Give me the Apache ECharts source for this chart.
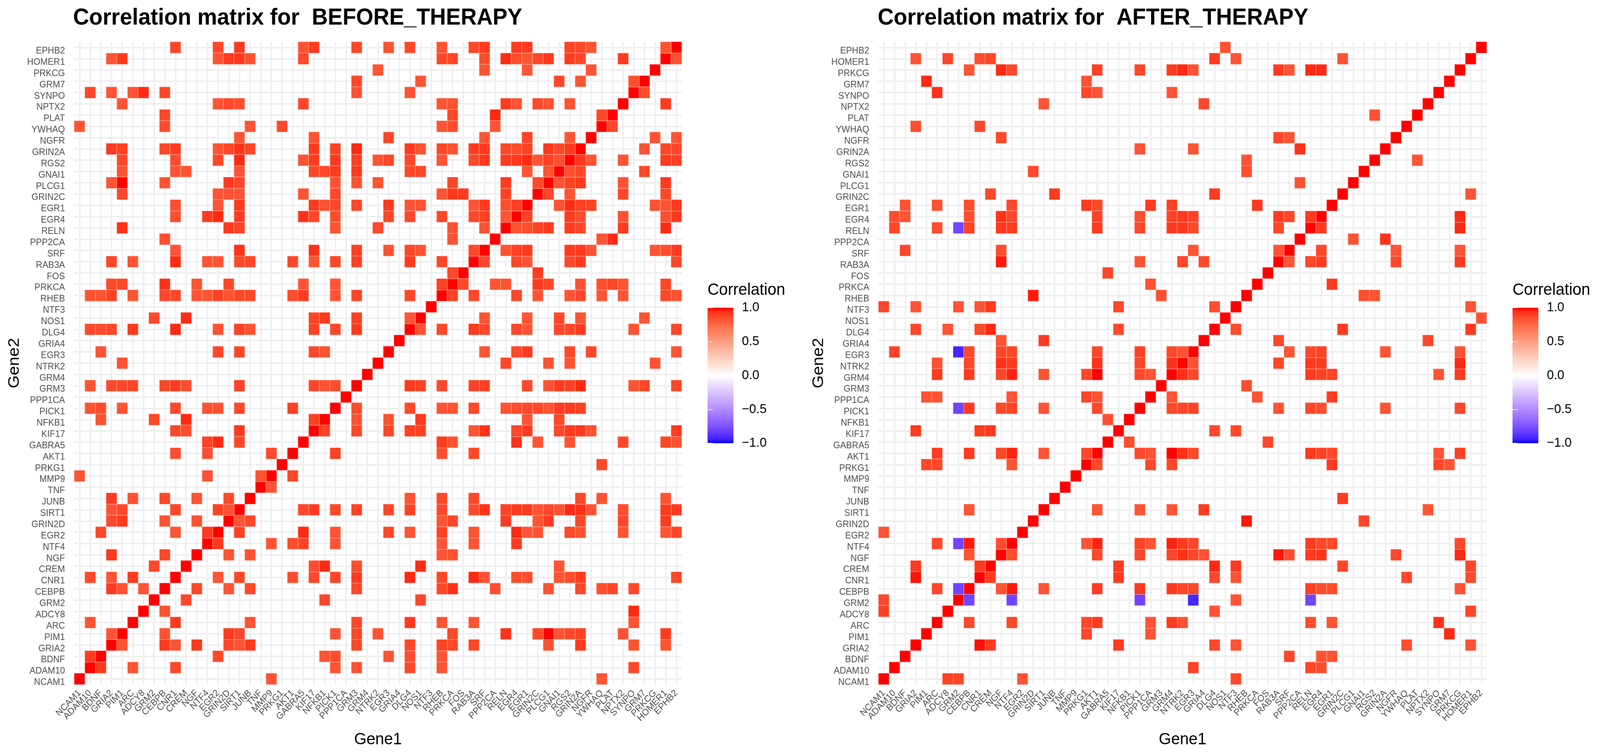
<!DOCTYPE html>
<html><head><meta charset="utf-8">
<style>html,body{margin:0;padding:0;background:#fff;overflow:hidden}#c{width:4335px;height:1936px;transform-origin:0 0}</style>
<script src="https://cdn.jsdelivr.net/npm/echarts@6/dist/echarts.min.js"></script>
</head><body><div id="c"></div>
<script>
const genes = ['NCAM1','ADAM10','BDNF','GRIA2','PIM1','ARC','ADCY8','GRM2','CEBPB','CNR1','CREM','NGF','NTF4','EGR2','GRIN2D','SIRT1','JUNB','TNF','MMP9','PRKG1','AKT1','GABRA5','KIF17','NFKB1','PICK1','PPP1CA','GRM3','GRM4','NTRK2','EGR3','GRIA4','DLG4','NOS1','NTF3','RHEB','PRKCA','FOS','RAB3A','SRF','PPP2CA','RELN','EGR4','EGR1','GRIN2C','PLCG1','GNAI1','RGS2','GRIN2A','NGFR','YWHAQ','PLAT','NPTX2','SYNPO','GRM7','PRKCG','HOMER1','EPHB2'];
const legendTicks = [-1, 1, 0.5];
// each entry: row gene index, then pairs (column gene index, correlation); the matrix is symmetric
const beforeRows = [
[56, 9,.87,13,.87,15,.91,21,.83,22,.91,26,.87,29,.83,31,.87,34,.83,37,.87,38,.91,41,.91,42,.91,46,.89,47,.87,48,.83,55,.83],
[55, 3,.83,4,.91,13,.83,14,.91,15,.91,16,.83,21,.87,34,.87,35,.87,38,.85,40,.95,41,.85,42,.83,43,.87,44,.91,46,.91,47,.87,51,.91],
[54, 28,.83,38,.83,42,.83,48,.83],
[53, 26,.87,32,.83,45,.87,47,.83,52,.85],
[52, 1,.87,3,.83,5,.83,6,.95,8,.87,26,.83,31,.83],
[51, 4,.83,13,.83,14,.87,15,.85,21,.87,34,.83,35,.83,40,.91,41,.83,43,.87,44,.83,46,.83],
[50, 8,.87,35,.87,39,.95,49,.87],
[49, 0,.83,8,.85,16,.83,19,.87,34,.83,35,.85,39,.83],
[48, 15,.83,22,.83,29,.87,38,.83,42,.89,46,.83],
[47, 3,.91,4,.89,8,.87,9,.91,13,.83,14,.87,15,.93,16,.87,22,.91,24,.89,26,.95,31,.91,32,.83,34,.87,35,.83,37,.91,38,.91,40,.87,41,.85,42,.89,44,.91,45,.87,46,.91],
[46, 4,.87,9,.85,13,.87,15,.95,21,.83,22,.91,24,.91,26,.89,28,.83,29,.87,31,.87,34,.83,37,.87,38,.91,40,.91,41,.91,42,.95,43,.83,44,.89,45,.85],
[45, 4,.83,9,.83,10,.83,15,.83,22,.87,23,.87,24,.91,26,.91,31,.87,32,.87,42,.83,44,.83],
[44, 3,.83,4,1,8,.83,14,.91,15,.87,24,.83,26,.83,28,.83,35,.87,40,.91,43,.87],
[43, 4,.87,13,.83,14,.83,15,.83,21,.83,24,.87,34,.83,35,.91,36,.91,40,.89],
[42, 9,.85,13,.83,15,.91,22,.91,23,.83,24,.87,26,.87,29,.91,31,.83,32,.83,37,.83,38,.91,40,.85,41,.89],
[41, 9,.85,12,.91,13,.95,15,.91,21,.93,22,.87,24,.85,29,.87,31,.87,34,.87,37,.87,38,.89,40,.83],
[40, 4,.93,14,.91,15,.89,24,.83,28,.87,35,.83,38,.83],
[39, 8,.85,35,.83],
[38, 9,.83,15,.93,22,.93,26,.89,29,.83,31,.87,32,.83,37,.87],
[37, 3,.87,5,.83,9,.95,12,.83,13,.83,15,.87,16,.87,20,.87,22,.83,24,.87,26,.89,31,.91,34,.87],
[36, 35,.87],
[35, 3,.87,4,.87,8,.93,11,.83,14,.87,21,.83,24,.83,34,.89],
[34, 1,.83,2,.83,3,.89,5,.83,8,.87,9,.87,11,.83,12,.83,13,.89,14,.83,15,.87,16,.87,20,.85,21,.91,24,.83,26,.87,31,.87],
[32, 7,.87,10,.95,22,.89,23,.91,26,.89,31,.83],
[31, 1,.87,2,.85,3,.87,5,.91,9,.95,13,.83,15,.89,16,.83,22,.89,24,.87,26,.91],
[29, 2,.83,13,.87,15,.87,22,.87,23,.83],
[28, 4,.83],
[26, 1,.83,3,.87,4,.87,5,.87,8,.87,9,.91,10,.85,15,.89,22,.87,23,.83,24,.85],
[24, 1,.83,2,.85,4,.83,9,.87,12,.83,13,.83,15,.87,20,.89],
[23, 2,.83,7,.87,10,.95,22,.89],
[22, 9,.87,10,.85,15,.91],
[21, 12,.89,13,.95,15,.87],
[20, 9,.85,12,.85,18,.87],
[18, 0,.83,12,.83,17,.83],
[16, 3,.91,5,.83,8,.87,11,.83,14,.87],
[15, 3,.83,4,.87,9,.87,13,.89,14,.83],
[14, 3,.87,4,.91,8,.83,11,.83],
[13, 2,.87,9,.83,12,.91],
[11, 3,.91,8,.87],
[10, 7,.87],
[9, 1,.87,3,.83,5,.91],
[8, 3,.91,4,.83,6,.83],
[5, 1,.83],
[4, 3,.83],
[2, 1,.91]
];
const afterRows = [
[56, 32,.83],
[55, 3,.83,6,.87,9,.85,10,.87,31,.91,33,.83,43,.83],
[54, 8,.83,11,.95,12,.87,20,.89,24,.87,27,.91,28,.95,29,.83,37,.91,38,.83,40,.95,41,.95],
[53, 4,.95,19,.83],
[52, 5,.93,19,.87,20,.83,27,.83],
[51, 15,.83,30,.87],
[50, 46,.83],
[49, 3,.85,9,.87],
[48, 11,.87,37,.87,38,.83],
[47, 24,.83,29,.83,39,.93],
[46, 34,.83],
[45, 14,.87,34,.85],
[44, 39,.83],
[43, 10,.87,16,.91,31,.91],
[42, 2,.83,5,.83,8,.85,12,.87,19,.91,20,.87,25,.91,27,.89,35,.91],
[41, 1,.85,2,.83,8,.85,11,.93,12,.87,20,.89,24,.85,27,.89,28,.91,29,.89,37,.91,38,.87,40,.91],
[40, 1,.87,5,.85,7,-.8,8,.89,11,.91,12,.91,20,.91,24,.87,27,.91,28,.91,29,.87,37,.87],
[38, 2,.87,11,.85,29,.83,37,.83],
[37, 11,.97,24,.83,28,.87,30,.87],
[36, 21,.87],
[35, 25,.83],
[34, 14,.97,26,.85],
[33, 0,.87,3,.83,7,.83,9,.83,10,.91,22,.87,31,.85],
[31, 3,.87,6,.83,9,.87,10,.95,22,.87],
[30, 11,.83,15,.91],
[29, 1,.89,7,-.92,8,.87,11,.87,12,.87,20,.87,24,.89,27,.87,28,.83],
[28, 5,.83,8,.87,11,.93,12,.91,20,.93,24,.87,27,.93],
[27, 5,.91,8,.91,11,.87,12,.96,15,.83,19,.87,20,1,24,.87,25,.83],
[25, 4,.83,5,.83,12,.83,19,.87,20,.83],
[24, 7,-.8,8,.91,11,.87,12,.89,15,.83,20,.87],
[23, 21,.85],
[22, 3,.91,9,.91,10,.91],
[20, 5,.91,8,.91,11,.87,12,.96,15,.83,19,.87],
[19, 4,.87,5,.87,12,.83],
[15, 8,.83],
[13, 0,.83],
[12, 5,.87,7,-.8,8,.97,11,.85],
[11, 8,.83],
[10, 3,.91,9,.91],
[9, 3,.98],
[8, 5,.87,7,-.8],
[7, 0,.87],
[6, 0,.89]
];

function toCells(rows){
  const out = genes.map((g,i)=>[i,i,1]);
  rows.forEach(r=>{
    for(let k=1;k<r.length;k+=2){
      out.push([r[k],r[0],r[k+1]]);
      out.push([r[0],r[k],r[k+1]]);
    }
  });
  return out;
}
// Lab colour ramp blue - white - red, as ggplot's gradient2
function lab2hex(L,a,b){
  const fy=(L+16)/116, fx=fy+a/500, fz=fy-b/200;
  const f=t=>{const c=t*t*t;return c>0.008856?c:(t-16/116)/7.787;};
  const X=0.95047*f(fx),Y=f(fy),Z=1.08883*f(fz);
  const lin=[3.2406*X-1.5372*Y-0.4986*Z,-0.9689*X+1.8758*Y+0.0415*Z,0.0557*X-0.2040*Y+1.0570*Z];
  return '#'+lin.map(c=>{c=Math.max(0,Math.min(1,c));c=c<=0.0031308?12.92*c:1.055*Math.pow(c,1/2.4)-0.055;return Math.round(c*255).toString(16).padStart(2,'0');}).join('');
}
const ramp=[];
for(let i=-20;i<=20;i++){
  const t=Math.abs(i)/20, e=i<0?[32.3,79.19,-107.86]:[53.24,80.09,67.2];
  ramp.push(lab2hex(100+(e[0]-100)*t,e[1]*t,e[2]*t));
}
const FONT='"Liberation Sans", Arial, sans-serif';
const panels=[
 {title:'Correlation matrix for  BEFORE_THERAPY',titleX:198,gridX:201,gridW:1646,legX:1917,cells:toCells(beforeRows)},
 {title:'Correlation matrix for  AFTER_THERAPY',titleX:2378,gridX:2380,gridW:1648,legX:4098,cells:toCells(afterRows)}
];
const opt={animation:false,backgroundColor:'#fff',title:[],grid:[],xAxis:[],yAxis:[],visualMap:[],series:[],textStyle:{fontFamily:FONT}};
const gl={color:'#EFEFEF',width:4};
panels.forEach((p,i)=>{
  const g=opt.grid.length;
  opt.title.push({text:p.title,left:p.titleX,top:16,padding:0,textStyle:{fontFamily:FONT,fontSize:60,fontWeight:'bold',color:'#000'}});
  opt.title.push({text:'Correlation',left:p.legX,top:722,padding:0,textStyle:{fontFamily:FONT,fontSize:43,fontWeight:'normal',color:'#000'}});
  opt.grid.push({left:p.gridX,top:107,width:p.gridW,height:1646,containLabel:false});
  opt.xAxis.push({type:'category',gridIndex:g,data:genes,name:'Gene1',nameLocation:'middle',nameGap:120,nameMoveOverlap:false,
    nameTextStyle:{fontFamily:FONT,fontSize:43,color:'#000'},
    axisLine:{show:false},axisTick:{show:false},splitLine:{show:true,alignWithLabel:true,lineStyle:gl},
    axisLabel:{interval:0,rotate:45,margin:18,hideOverlap:false,fontFamily:FONT,fontSize:24,color:'#4D4D4D'}});
  opt.yAxis.push({type:'category',gridIndex:g,data:genes,name:'Gene2',nameLocation:'middle',nameGap:140,nameRotate:90,nameMoveOverlap:false,
    nameTextStyle:{fontFamily:FONT,fontSize:43,color:'#000'},
    axisLine:{show:false},axisTick:{show:false},splitLine:{show:true,alignWithLabel:true,lineStyle:gl},
    axisLabel:{interval:0,margin:25,hideOverlap:false,verticalAlign:'top',lineHeight:18,fontFamily:FONT,fontSize:24,color:'#4D4D4D'}});
  opt.series.push({type:'heatmap',xAxisIndex:g,yAxisIndex:opt.yAxis.length-1,data:p.cells,progressive:0,
    itemStyle:{borderColor:'rgba(255,255,255,0.45)',borderWidth:1.5},emphasis:{disabled:true},silent:true});
});
panels.forEach((p,i)=>{
  opt.visualMap.push({type:'continuous',min:-1,max:1,seriesIndex:i,dimension:2,left:p.legX,top:788,itemWidth:70,itemHeight:347,padding:0,
    calculable:false,hoverLink:false,text:null,inRange:{color:ramp},z:4});
  const g=opt.grid.length;
  opt.grid.push({left:p.legX,top:788,width:70,height:347,containLabel:false,show:false});
  opt.xAxis.push({type:'value',gridIndex:g,show:false,min:0,max:1});
  const tick={show:true,inside:true,length:14,lineStyle:{color:'rgba(255,255,255,0.75)',width:2}};
  opt.yAxis.push({type:'value',gridIndex:g,position:'right',min:Math.min(...legendTicks),max:Math.max(...legendTicks),interval:legendTicks[2],z:10,
    axisLine:{show:false},axisTick:tick,splitLine:{show:false},
    axisLabel:{margin:23,fontFamily:FONT,fontSize:34,color:'#000',formatter:v=>(v<0?'\u2212':'')+Math.abs(v).toFixed(1)}});
  opt.yAxis.push({type:'value',gridIndex:g,position:'left',min:Math.min(...legendTicks),max:Math.max(...legendTicks),interval:legendTicks[2],z:10,
    axisLine:{show:false},axisTick:tick,splitLine:{show:false},axisLabel:{show:false}});
});
const el=document.getElementById('c');
const sx=Math.min(1,window.innerWidth/4335);
el.style.transform='scaleX('+sx+')';
const chart=echarts.init(el,null,{renderer:'canvas',width:4335,height:1936});
chart.setOption(opt);
</script></body></html>
